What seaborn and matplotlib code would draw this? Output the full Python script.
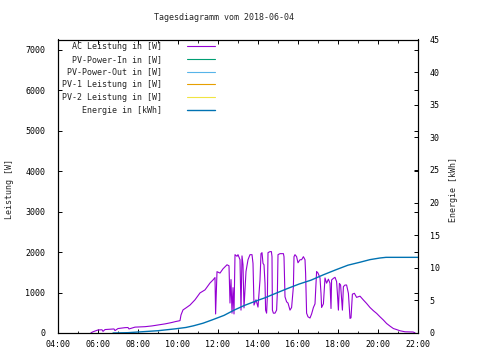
import matplotlib
matplotlib.use("Agg")
import matplotlib.pyplot as plt
import seaborn as sns
import pandas as pd
from matplotlib.ticker import MultipleLocator, FixedLocator

title = "Tagesdiagramm vom 2018-06-04"

ac_time = [5.65, 5.75, 6.0, 6.2, 6.25, 6.35, 6.65, 6.8, 6.85, 7.0, 7.35, 7.5, 7.55, 7.85, 8.35, 8.7,
           9.0, 9.35, 9.65, 9.9, 10.1, 10.15, 10.25, 10.4, 10.6, 10.85, 11.1, 11.35, 11.6, 11.75,
           11.85, 11.88, 11.95, 12.1, 12.25, 12.45, 12.55, 12.6, 12.65, 12.7, 12.75, 12.8, 12.85,
           12.95, 13.0, 13.1, 13.15, 13.2, 13.25, 13.3, 13.4, 13.5, 13.6, 13.7, 13.75, 13.8, 13.9,
           14.0, 14.1, 14.15, 14.2, 14.25, 14.3, 14.35, 14.38, 14.43, 14.47, 14.5, 14.6, 14.67,
           14.7, 14.72, 14.77, 14.85, 14.93, 14.97, 15.0, 15.1, 15.27, 15.3, 15.35, 15.43, 15.5,
           15.6, 15.68, 15.77, 15.8, 15.85, 15.93, 16.0, 16.1, 16.18, 16.27, 16.35, 16.38, 16.43,
           16.5, 16.6, 16.68, 16.77, 16.85, 16.93, 17.0, 17.1, 17.15, 17.18, 17.27, 17.35, 17.43,
           17.52, 17.6, 17.65, 17.68, 17.77, 17.85, 17.93, 17.97, 18.02, 18.07, 18.13, 18.22,
           18.27, 18.35, 18.43, 18.52, 18.6, 18.65, 18.72, 18.82, 18.93, 19.1, 19.27, 19.43,
           19.6, 19.77, 19.93, 20.1, 20.27, 20.43, 20.6, 20.77, 20.93, 21.1, 21.35, 21.75, 21.85]
ac_power = [5, 30, 75, 80, 40, 85, 95, 100, 60, 110, 132, 135, 100, 145, 156, 175,
            198, 225, 255, 285, 305, 445, 570, 620, 690, 820, 990, 1065, 1235, 1310,
            1370, 470, 1515, 1480, 1585, 1685, 1660, 740, 1320, 490, 1120, 470, 1935,
            1895, 1935, 1810, 565, 1905, 1685, 620, 1520, 1810, 1935, 1935, 1720, 690, 820,
            640, 1310, 1960, 1985, 1720, 1685, 1230, 565, 490, 920, 1985, 2010, 2010,
            1885, 565, 490, 490, 565, 1020, 1935, 1960, 1960, 1885, 895, 770, 740,
            565, 630, 1145, 1885, 1935, 1885, 1735, 1810, 1810, 1885, 1810, 1480, 490,
            400, 370, 470, 630, 720, 1520, 1480, 1360, 980, 630, 720, 1360, 1230,
            1330, 1230, 605, 1310, 1350, 1375, 1270, 980, 565, 1225, 1185, 565,
            1145, 1185, 1185, 980, 360, 375, 960, 980, 880, 910, 815, 730,
            630, 550, 485, 400, 320, 235, 170, 110, 85, 55, 30, 25, 5]

energy_time = [6.75, 7.5, 8.0, 9.0, 9.9, 10.4, 10.77, 11.25, 11.7, 12.3, 12.8, 13.3, 13.85,
               14.35, 14.9, 15.5, 16.05, 16.65, 17.25, 17.9, 18.5, 19.1, 19.6, 20.1, 20.4, 22.0]
energy_kwh = [0.0, 0.05, 0.15, 0.35, 0.65, 0.85, 1.1, 1.5, 2.0, 2.7, 3.5, 4.2, 4.85,
              5.4, 6.1, 6.85, 7.5, 8.1, 8.9, 9.7, 10.4, 10.85, 11.25, 11.5, 11.6, 11.6]

pv_power_in = []
pv_power_out = []
pv1_power = []
pv2_power = []

series_labels = ["AC Leistung in [W]", "PV-Power-In in [W]", "PV-Power-Out in [W]",
                 "PV-1 Leistung in [W]", "PV-2 Leistung in [W]", "Energie in [kWh]"]
series_colors = ["#9400D3", "#009E73", "#56B4E9", "#E69F00", "#F0E442", "#0072B2"]

xtick_values = [4, 6, 8, 10, 12, 14, 16, 18, 20, 22]
xtick_labels = ["04:00", "06:00", "08:00", "10:00", "12:00", "14:00", "16:00", "18:00",
                "20:00", "22:00"]
ylabel_left = "Leistung [W]"
ylabel_right = "Energie [kWh]"

sns.set_theme(style="white")
plt.rcParams['font.family'] = ['DejaVu Sans Mono']
plt.rcParams['font.size'] = 6

fig = plt.figure(figsize=(4.8, 3.6), dpi=100)
ax = fig.add_axes([58 / 480, (360 - 333) / 360, 360 / 480, (333 - 39.5) / 360])
ax2 = ax.twinx()

ac_df = pd.DataFrame({"t": ac_time, "p": ac_power})
en_df = pd.DataFrame({"t": energy_time, "e": energy_kwh})

sns.lineplot(data=ac_df, x="t", y="p", ax=ax, color=series_colors[0], linewidth=0.8,
             estimator=None, sort=False, label=series_labels[0])
extra = [pv_power_in, pv_power_out, pv1_power, pv2_power]
handles = [ax.get_lines()[0]]
for vals, lab, col in zip(extra, series_labels[1:5], series_colors[1:5]):
    h, = ax.plot(vals, vals, color=col, linewidth=0.8, label=lab)
    handles.append(h)
sns.lineplot(data=en_df, x="t", y="e", ax=ax2, color=series_colors[5], linewidth=1.0,
             estimator=None, sort=False, label=series_labels[5])
handles.append(ax2.get_lines()[0])
if ax.get_legend():
    ax.get_legend().remove()
if ax2.get_legend():
    ax2.get_legend().remove()

ax.set_xlim(4, 22)
ax.set_ylim(0, 7250)
ax2.set_ylim(0, 45)

ax.xaxis.set_major_locator(FixedLocator(xtick_values))
ax.set_xticklabels(xtick_labels)
ax.xaxis.set_minor_locator(MultipleLocator(1))
ax.yaxis.set_major_locator(MultipleLocator(1000))
ax2.yaxis.set_major_locator(MultipleLocator(5))

ax.tick_params(axis="both", which="major", direction="in", length=3, width=0.7,
               colors="black", labelsize=6, top=True, right=True, bottom=True, left=True)
ax.tick_params(axis="x", which="minor", direction="in", length=1.8, width=0.7,
               top=True, bottom=True)
ax.tick_params(axis="y", which="major", pad=9)
ax.tick_params(axis="x", which="major", pad=5)
ax2.tick_params(axis="y", which="major", direction="in", length=3, width=0.7,
                colors="black", labelsize=6, pad=8.5)

for a in (ax, ax2):
    for s in a.spines.values():
        s.set_color("black")
        s.set_linewidth(0.8)

ax.set_xlabel("")
ax.set_ylabel(ylabel_left, fontsize=6)
ax2.set_ylabel(ylabel_right, fontsize=6)
ax.yaxis.set_label_coords((14 - 58) / 360, 0.49)
ax2.yaxis.set_label_coords((449 - 58) / 360, 0.49)

fig.text(223.5 / 480, 1 - 17 / 360, title, ha="center", va="center", fontsize=6)

width = max(len(l) for l in series_labels)
labels_padded = [l.rjust(width) for l in series_labels]
ax2.legend(handles, labels_padded, loc="upper left", frameon=False, markerfirst=False,
           bbox_to_anchor=((62 - 58) / 360, (333 - 42) / 293.5), borderaxespad=0,
           borderpad=0, handlelength=3.4, handletextpad=3.0, labelspacing=0.45,
           fontsize=6)

fig.savefig("out.png", dpi=100)
